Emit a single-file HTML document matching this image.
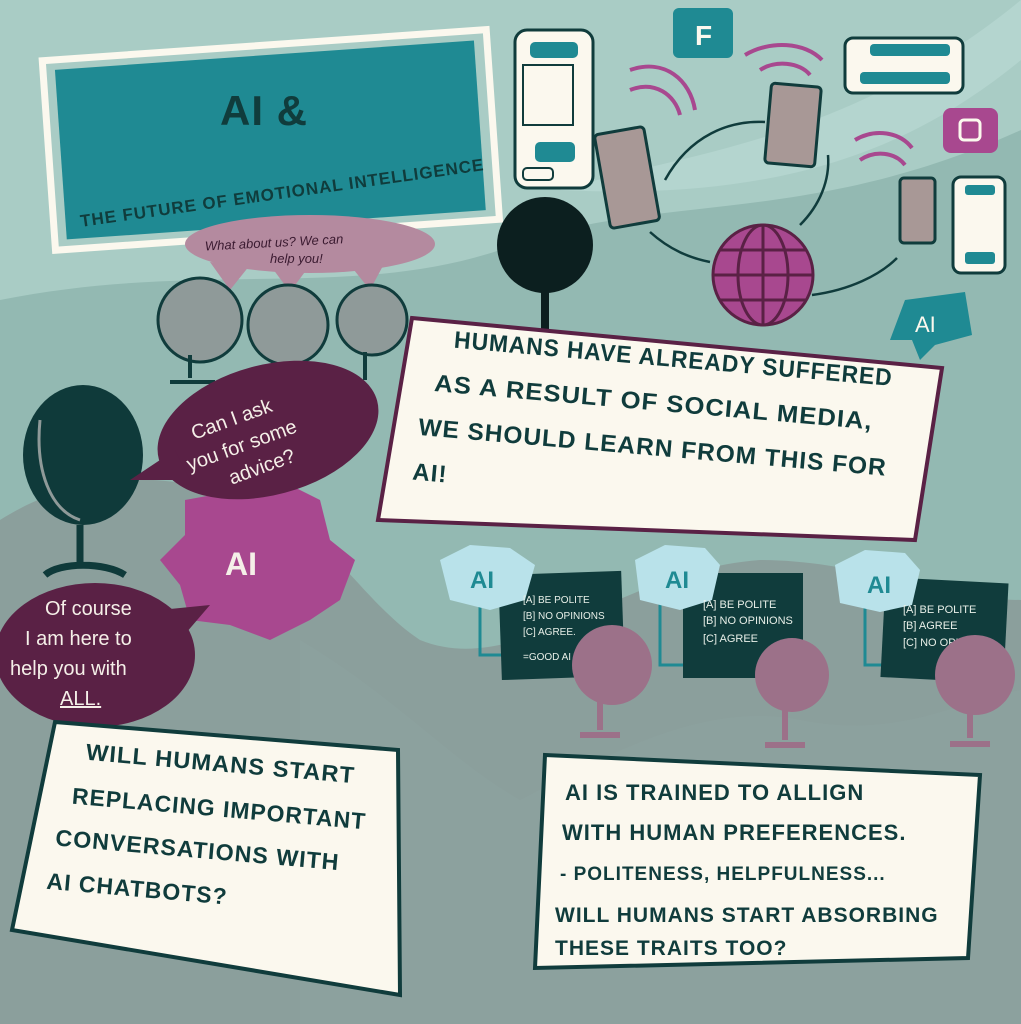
<!DOCTYPE html>
<html><head><meta charset="utf-8"><style>
html,body{margin:0;padding:0;width:1021px;height:1024px;overflow:hidden;background:#a9ccc5}
svg{display:block}
text{font-family:"Liberation Sans",sans-serif}
.h{font-weight:bold;fill:#103c3c;letter-spacing:1px}
</style></head><body>
<svg width="1021" height="1024" viewBox="0 0 1021 1024" xmlns="http://www.w3.org/2000/svg">
<rect width="1021" height="1024" fill="#a9ccc5"/>
<path d="M0 300 C200 260 350 300 500 250 C650 190 800 230 1021 130 L1021 1024 L0 1024Z" fill="#93b9b2"/>
<path d="M560 190 C700 150 850 140 1021 0 L1021 60 C900 160 760 200 560 190Z" fill="#b4d5cf"/>
<path d="M0 520 C80 470 160 470 250 500 C330 530 360 600 420 640 C520 680 620 570 760 560 C860 560 950 600 1021 600 L1021 1024 L0 1024Z" fill="#8b9f9c"/>
<path d="M300 640 C400 700 450 760 520 800 C600 760 700 700 800 720 C900 740 960 700 1021 690 L1021 1024 L300 1024Z" fill="#8da29f" opacity=".7"/>

<g transform="rotate(-4 270 135)">
<rect x="48" y="45" width="445" height="190" fill="none" stroke="#fbf8ee" stroke-width="7"/>
<rect x="60" y="55" width="420" height="170" fill="#1f8a93"/>
</g>
<text x="220" y="125" class="h" font-size="42" fill="#103c3c">AI &amp;</text>
<text x="75" y="200" class="h" font-size="17" transform="rotate(-8 270 170)">THE FUTURE OF EMOTIONAL INTELLIGENCE</text>

<ellipse cx="310" cy="244" rx="125" ry="29" fill="#b48a9f"/>
<path d="M210 262 L230 290 L250 265Z M270 265 L290 292 L310 265Z M350 265 L370 290 L385 262Z" fill="#b48a9f"/>
<text x="205" y="245" font-size="13" fill="#3a1a30" font-style="italic" transform="rotate(-3 310 245)">What about us? We can</text>
<text x="270" y="263" font-size="13" fill="#3a1a30" font-style="italic">help you!</text>

<g fill="#8f9a99" stroke="#103c3c" stroke-width="3">
<circle cx="200" cy="320" r="42"/><circle cx="288" cy="325" r="40"/><circle cx="372" cy="320" r="35"/>
</g>
<path d="M190 355 V378 M170 382 H215 M280 362 V380 M365 352 V380" stroke="#103c3c" stroke-width="4" fill="none"/>

<ellipse cx="83" cy="455" rx="60" ry="70" fill="#0f3a3a"/>
<path d="M40 420 C35 470 50 510 80 520" stroke="#8f9a99" stroke-width="3" fill="none"/>
<path d="M80 525 V565 M45 575 C60 562 105 562 125 575" stroke="#0f3a3a" stroke-width="7" fill="none"/>

<!-- magenta gear (behind bubble) -->
<path d="M185 500 L240 490 L290 485 L320 500 L330 540 L355 560 L340 600 L310 620 L270 640 L230 625 L190 620 L180 585 L160 560 L185 535Z" fill="#a8488f"/>
<text x="225" y="575" font-size="32" fill="#f5efe8" font-weight="bold">AI</text>

<ellipse cx="268" cy="430" rx="113" ry="65" fill="#5a2145" transform="rotate(-15 268 430)"/>
<path d="M175 450 L130 480 L190 480Z" fill="#5a2145"/>
<g transform="rotate(-20 265 430)">
<text x="195" y="415" font-size="20" fill="#f5efe8">Can I ask</text>
<text x="180" y="443" font-size="20" fill="#f5efe8">you for some</text>
<text x="215" y="470" font-size="20" fill="#f5efe8">advice?</text>
</g>

<ellipse cx="95" cy="655" rx="100" ry="72" fill="#5a2145"/>
<path d="M160 610 L210 605 L180 640Z" fill="#5a2145"/>
<text x="45" y="615" font-size="20" fill="#f5efe8">Of course</text>
<text x="25" y="645" font-size="20" fill="#f5efe8">I am here to</text>
<text x="10" y="675" font-size="20" fill="#f5efe8">help you with</text>
<text x="60" y="705" font-size="20" fill="#f5efe8" text-decoration="underline">ALL.</text>

<circle cx="545" cy="245" r="48" fill="#0c1f1f"/>
<path d="M545 290 V330" stroke="#0c1f1f" stroke-width="8"/>

<polygon points="412,318 942,368 915,540 378,520" fill="#fbf8ee" stroke="#5a2145" stroke-width="4"/>
<g transform="rotate(5 650 420)">
<text x="448" y="365" class="h" font-size="24" textLength="440" lengthAdjust="spacingAndGlyphs">HUMANS HAVE ALREADY SUFFERED</text>
<text x="432" y="410" class="h" font-size="24" textLength="440" lengthAdjust="spacingAndGlyphs">AS A RESULT OF SOCIAL MEDIA,</text>
<text x="420" y="455" class="h" font-size="24" textLength="470" lengthAdjust="spacingAndGlyphs">WE SHOULD LEARN FROM THIS FOR</text>
<text x="418" y="500" class="h" font-size="24">AI!</text>
</g>

<g>
<path d="M480 600 V655 H520" stroke="#1f8a93" stroke-width="3" fill="none"/>
<rect x="500" y="573" width="123" height="105" fill="#103c3c" transform="rotate(-2 560 625)"/>
<path d="M440 560 L470 545 L510 548 L535 565 L525 600 L490 610 L450 600Z" fill="#b9e2ea"/>
<text x="470" y="588" font-size="24" fill="#1f8a93" font-weight="bold">AI</text>
<text x="523" y="603" font-size="10" fill="#e8efe8">[A] BE POLITE</text>
<text x="523" y="619" font-size="10" fill="#e8efe8">[B] NO OPINIONS</text>
<text x="523" y="635" font-size="10" fill="#e8efe8">[C] AGREE.</text>
<text x="523" y="660" font-size="10" fill="#e8efe8">=GOOD AI</text>
<path d="M660 600 V665 H690" stroke="#1f8a93" stroke-width="3" fill="none"/>
<rect x="683" y="573" width="120" height="105" fill="#103c3c"/>
<path d="M635 560 L665 545 L705 548 L720 565 L712 600 L680 610 L640 600Z" fill="#b9e2ea"/>
<text x="665" y="588" font-size="24" fill="#1f8a93" font-weight="bold">AI</text>
<text x="703" y="608" font-size="11" fill="#e8efe8">[A] BE POLITE</text>
<text x="703" y="624" font-size="11" fill="#e8efe8">[B] NO OPINIONS</text>
<text x="703" y="642" font-size="11" fill="#e8efe8">[C] AGREE</text>
<path d="M865 600 V665 H890" stroke="#1f8a93" stroke-width="3" fill="none"/>
<rect x="883" y="580" width="123" height="100" fill="#103c3c" transform="rotate(3 940 630)"/>
<path d="M835 565 L865 550 L905 553 L920 570 L912 605 L880 612 L840 603Z" fill="#b9e2ea"/>
<text x="867" y="593" font-size="24" fill="#1f8a93" font-weight="bold">AI</text>
<text x="903" y="613" font-size="11" fill="#e8efe8">[A] BE POLITE</text>
<text x="903" y="629" font-size="11" fill="#e8efe8">[B] AGREE</text>
<text x="903" y="646" font-size="11" fill="#e8efe8">[C] NO OPI</text>
</g>
<g fill="#9c7189">
<circle cx="612" cy="665" r="40"/><circle cx="792" cy="675" r="37"/><circle cx="975" cy="675" r="40"/>
</g>
<path d="M600 700 V730 M580 735 H620 M785 710 V740 M765 745 H805 M970 712 V738 M950 744 H990" stroke="#9c7189" stroke-width="6"/>

<polygon points="55,722 398,750 400,995 12,930" fill="#fbf8ee" stroke="#103c3c" stroke-width="4"/>
<g transform="rotate(5 200 850)">
<text x="78" y="770" class="h" font-size="23" textLength="270" lengthAdjust="spacingAndGlyphs">WILL HUMANS START</text>
<text x="68" y="815" class="h" font-size="23" textLength="295" lengthAdjust="spacingAndGlyphs">REPLACING IMPORTANT</text>
<text x="55" y="858" class="h" font-size="23" textLength="285" lengthAdjust="spacingAndGlyphs">CONVERSATIONS WITH</text>
<text x="50" y="902" class="h" font-size="23">AI CHATBOTS?</text>
</g>

<polygon points="545,755 980,775 968,958 535,968" fill="#fbf8ee" stroke="#103c3c" stroke-width="4"/>
<text x="565" y="800" class="h" font-size="22">AI IS TRAINED TO ALLIGN</text>
<text x="562" y="840" class="h" font-size="22">WITH HUMAN PREFERENCES.</text>
<text x="560" y="880" class="h" font-size="19">- POLITENESS, HELPFULNESS...</text>
<text x="555" y="922" class="h" font-size="21">WILL HUMANS START ABSORBING</text>
<text x="555" y="955" class="h" font-size="21">THESE TRAITS TOO?</text>

<rect x="515" y="30" width="78" height="158" rx="12" fill="#fbf8ee" stroke="#103c3c" stroke-width="3"/>
<rect x="530" y="42" width="48" height="16" rx="5" fill="#1f8a93"/>
<rect x="523" y="65" width="50" height="60" fill="#fbf8ee" stroke="#103c3c" stroke-width="2"/>
<rect x="535" y="142" width="40" height="20" rx="5" fill="#1f8a93"/>
<rect x="523" y="168" width="30" height="12" rx="4" fill="#fbf8ee" stroke="#103c3c" stroke-width="2"/>
<rect x="673" y="8" width="60" height="50" rx="6" fill="#1f8a93"/>
<text x="695" y="45" font-size="28" fill="#fbf8ee" font-weight="bold">F</text>
<g fill="#a89896" stroke="#103c3c" stroke-width="3">
<rect x="602" y="130" width="50" height="95" rx="4" transform="rotate(-10 627 177)"/>
<rect x="768" y="85" width="50" height="80" rx="4" transform="rotate(5 793 125)"/>
<rect x="900" y="178" width="35" height="65" rx="4"/>
</g>
<g stroke="#a8488f" stroke-width="4" fill="none">
<path d="M630 90 C655 80 675 95 680 115"/><path d="M630 70 C665 58 690 80 695 110"/>
<path d="M760 70 C775 60 800 62 810 75"/><path d="M745 55 C770 40 805 42 822 60"/>
<path d="M860 160 C875 150 895 152 905 165"/><path d="M855 140 C875 128 900 132 912 148"/>
</g>
<rect x="845" y="38" width="118" height="55" rx="8" fill="#fbf8ee" stroke="#103c3c" stroke-width="3"/>
<rect x="870" y="44" width="80" height="12" rx="4" fill="#1f8a93"/>
<rect x="860" y="72" width="90" height="12" rx="4" fill="#1f8a93"/>
<rect x="943" y="108" width="55" height="45" rx="8" fill="#a8488f"/>
<rect x="960" y="120" width="20" height="20" rx="4" fill="none" stroke="#fbf8ee" stroke-width="3"/>
<rect x="953" y="177" width="52" height="96" rx="8" fill="#fbf8ee" stroke="#103c3c" stroke-width="3"/>
<rect x="965" y="185" width="30" height="10" rx="3" fill="#1f8a93"/>
<rect x="965" y="252" width="30" height="12" rx="3" fill="#1f8a93"/>
<circle cx="763" cy="275" r="50" fill="#a8488f" stroke="#5a2145" stroke-width="3"/>
<g stroke="#5a2145" stroke-width="3" fill="none">
<ellipse cx="763" cy="275" rx="25" ry="50"/><path d="M763 225 V325 M713 275 H813 M720 250 H806 M720 300 H806"/>
</g>
<g stroke="#103c3c" stroke-width="2.5" fill="none">
<path d="M665 180 C690 135 730 120 765 122"/><path d="M650 232 C670 250 690 258 710 262"/>
<path d="M812 295 C850 290 880 275 897 258"/><path d="M800 225 C820 205 830 180 828 155"/>
</g>
<path d="M905 300 L965 292 L972 335 L935 345 L920 360 L912 340 L890 340Z" fill="#1f8a93"/>
<text x="915" y="332" font-size="22" fill="#fbf8ee">AI</text>
</svg>
</body></html>
